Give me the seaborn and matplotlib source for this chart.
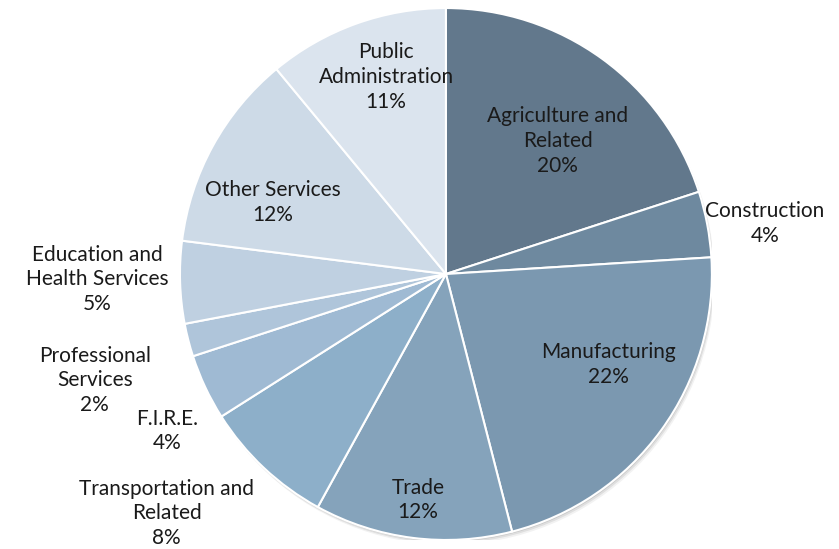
import matplotlib.pyplot as plt
import matplotlib.patches as mpatches
import seaborn as sns

sns.set_theme(style="white")
plt.rcParams['font.family'] = ['Lato', 'DejaVu Sans']

# Employment share by sector (percent)
sectors = ["Agriculture and\nRelated", "Construction", "Manufacturing", "Trade",
           "Transportation and\nRelated", "F.I.R.E.", "Professional\nServices",
           "Education and\nHealth Services", "Other Services", "Public\nAdministration"]
shares = [20, 4, 22, 12, 8, 4, 2, 5, 12, 11]
colors = ["#62788c", "#6e899f", "#7b98b0", "#85a3bb", "#8dafc9",
          "#9fbad3", "#afc5da", "#bfd0e1", "#cddae7", "#dbe4ee"]

# label anchor points (pie radius = 1)
label_pos = [(0.42, 0.50), (1.20, 0.19), (0.61, -0.34), (-0.105, -0.85),
             (-1.05, -0.90), (-1.05, -0.59), (-1.32, -0.40), (-1.31, -0.02),
             (-0.65, 0.27), (-0.225, 0.74)]

fig = plt.figure(figsize=(8.39, 5.49), dpi=100)
ax = fig.add_axes([0.2145, 0.0164, 0.634, 0.969])

# soft drop shadow
for off, a in [(0.018, 0.05), (0.012, 0.08), (0.006, 0.10)]:
    ax.add_patch(mpatches.Circle((off * 0.6, -off), 1.0, color="#000000", alpha=a, lw=0, zorder=0))

wedges, _ = ax.pie(shares, colors=colors, startangle=90, counterclock=False,
                   wedgeprops=dict(edgecolor="white", linewidth=1.5))
for w in wedges:
    w.set_zorder(2)

for name, val, (x, y) in zip(sectors, shares, label_pos):
    ax.text(x, y, "%s\n%d%%" % (name, val), ha="center", va="center",
            fontsize=15, color="#1a1a1a", linespacing=1.3, zorder=3)

ax.set_xlim(-1, 1)
ax.set_ylim(-1, 1)
ax.set_aspect("equal")
ax.axis("off")

fig.savefig("out.png", dpi=100)
